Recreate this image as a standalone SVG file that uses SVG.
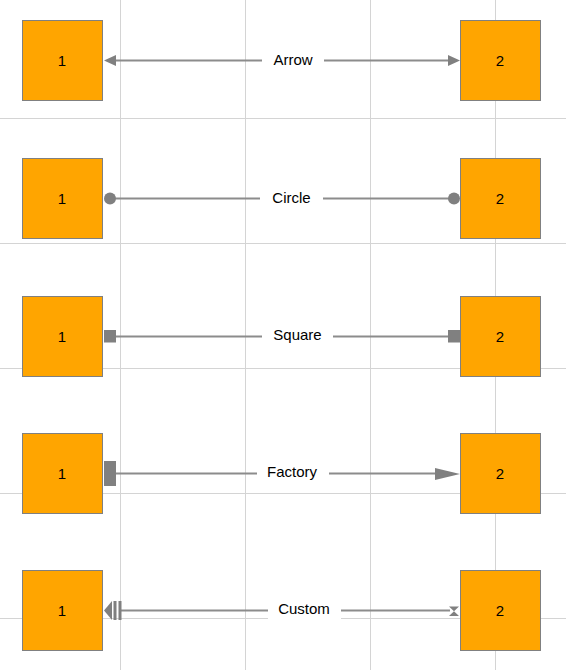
<svg xmlns="http://www.w3.org/2000/svg" width="566" height="670" viewBox="0 0 566 670">
<style>
.grid{stroke:#d4d4d4;stroke-width:1;fill:none}
.node rect{fill:#FFA500;stroke:#808080;stroke-width:1}
.node text,.lbl text{font-family:"Liberation Sans",Arial,sans-serif;font-size:15px;fill:#000;text-anchor:middle}
.edge{stroke:#8c8c8c;stroke-width:2;fill:none}
.mk{fill:#808080;stroke:none}
.lbl rect{fill:#fff}
</style>
<rect width="566" height="670" fill="#fff"/>
<g id="grid" class="grid">
<path d="M120.5 0V670M245.5 0V670M370.5 0V670M495.5 0V670"/>
<path d="M0 118.5H566M0 243.5H566M0 368.5H566M0 493.5H566M0 618.5H566"/>
</g>
<g id="connectors">
<g id="e-arrow">
<line class="edge" x1="115" y1="60.5" x2="449" y2="60.5"/>
<polygon class="mk" points="104,60.5 116,55 116,66"/>
<polygon class="mk" points="460,60.5 448,55 448,66"/>
<g class="lbl"><rect x="262" y="50" width="62" height="20"/><text x="293" y="64.5">Arrow</text></g>
</g>
<g id="e-circle">
<line class="edge" x1="110" y1="198.5" x2="454" y2="198.5"/>
<circle class="mk" cx="110" cy="198.5" r="6"/>
<circle class="mk" cx="454" cy="198.5" r="6"/>
<g class="lbl"><rect x="260" y="188" width="63" height="20"/><text x="291.5" y="202.5">Circle</text></g>
</g>
<g id="e-square">
<line class="edge" x1="110" y1="336.5" x2="454" y2="336.5"/>
<rect class="mk" x="104" y="330" width="12" height="12.5"/>
<rect class="mk" x="448" y="330" width="12" height="12.5"/>
<g class="lbl"><rect x="262" y="326" width="71" height="20"/><text x="297.5" y="340">Square</text></g>
</g>
<g id="e-factory">
<line class="edge" x1="110" y1="473.5" x2="437" y2="473.5"/>
<rect class="mk" x="104" y="461" width="12" height="25"/>
<polygon class="mk" points="460,474 435,468 435,480"/>
<g class="lbl"><rect x="257" y="463" width="72" height="20"/><text x="292" y="477">Factory</text></g>
</g>
<g id="e-custom">
<line class="edge" x1="120" y1="610.5" x2="450" y2="610.5"/>
<polygon class="mk" points="104,610.5 112,601 112,620"/>
<rect class="mk" x="113.5" y="601" width="3" height="19"/>
<rect class="mk" x="118.5" y="601" width="3" height="19"/>
<polygon class="mk" points="449,606.5 459,606.5 454,611.3 459,616 449,616 454,611.3"/>
<g class="lbl"><rect x="268" y="600" width="73" height="20"/><text x="304" y="614">Custom</text></g>
</g>
</g>
<g id="n1a" class="node"><rect x="22.5" y="20.5" width="80" height="80"/><text x="62" y="65.5">1</text></g>
<g id="n2a" class="node"><rect x="460.5" y="20.5" width="80" height="80"/><text x="500" y="65.5">2</text></g>
<g id="n1b" class="node"><rect x="22.5" y="158.5" width="80" height="80"/><text x="62" y="203.5">1</text></g>
<g id="n2b" class="node"><rect x="460.5" y="158.5" width="80" height="80"/><text x="500" y="203.5">2</text></g>
<g id="n1c" class="node"><rect x="22.5" y="296.5" width="80" height="80"/><text x="62" y="341.5">1</text></g>
<g id="n2c" class="node"><rect x="460.5" y="296.5" width="80" height="80"/><text x="500" y="341.5">2</text></g>
<g id="n1d" class="node"><rect x="22.5" y="433.5" width="80" height="80"/><text x="62" y="478.5">1</text></g>
<g id="n2d" class="node"><rect x="460.5" y="433.5" width="80" height="80"/><text x="500" y="478.5">2</text></g>
<g id="n1e" class="node"><rect x="22.5" y="570.5" width="80" height="80"/><text x="62" y="615.5">1</text></g>
<g id="n2e" class="node"><rect x="460.5" y="570.5" width="80" height="80"/><text x="500" y="615.5">2</text></g>
</svg>
